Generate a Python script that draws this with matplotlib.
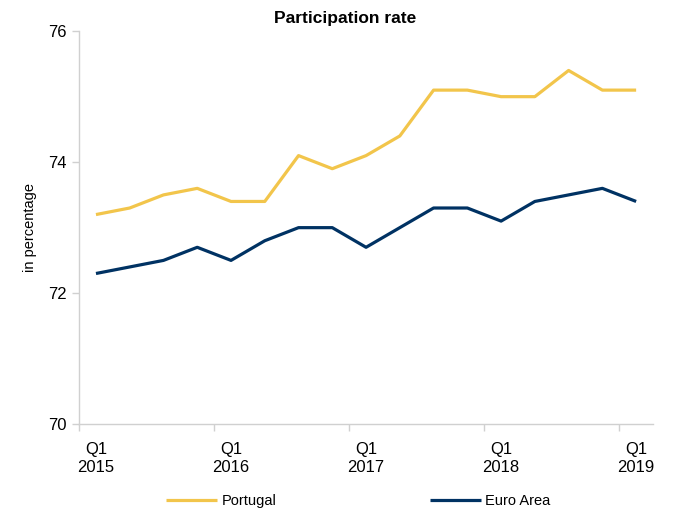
import matplotlib
matplotlib.use("Agg")
import matplotlib.pyplot as plt
from matplotlib import font_manager

# quarterly participation rate, Q1 2015 .. Q1 2019
quarters = ["Q1\n2015", "Q2", "Q3", "Q4", "Q1\n2016", "Q2", "Q3", "Q4",
            "Q1\n2017", "Q2", "Q3", "Q4", "Q1\n2018", "Q2", "Q3", "Q4", "Q1\n2019"]
portugal = [73.2, 73.3, 73.5, 73.6, 73.4, 73.4, 74.1, 73.9,
            74.1, 74.4, 75.1, 75.1, 75.0, 75.0, 75.4, 75.1, 75.1]
euro_area = [72.3, 72.4, 72.5, 72.7, 72.5, 72.8, 73.0, 73.0,
             72.7, 73.0, 73.3, 73.3, 73.1, 73.4, 73.5, 73.6, 73.4]
yticks = [70, 72, 74, 76]

names = set(f.name for f in font_manager.fontManager.ttflist)
narrow = "Liberation Sans Narrow" if "Liberation Sans Narrow" in names else "Liberation Sans"
plt.rcParams['font.family'] = ['Liberation Sans', 'DejaVu Sans']

yellow = "#F2C54B"
navy = "#003263"
grey = "#D0D0D0"

fig = plt.figure(figsize=(6.76, 5.11), dpi=100)
ax = fig.add_axes([0.117, 0.170, 0.849, 0.769])

x = list(range(len(quarters)))
ax.plot(x, portugal, color=yellow, lw=2.3, label="Portugal", solid_capstyle="butt")
ax.plot(x, euro_area, color=navy, lw=2.3, label="Euro Area", solid_capstyle="butt")

ax.set_xlim(-0.5, len(quarters) - 0.5)
ax.set_ylim(70, 76)
ax.set_yticks(yticks)
ax.set_yticklabels([str(v) for v in yticks], fontsize=12)

# labels on every 4th quarter, tick marks between categories
lab_idx = [i for i in x if i % 4 == 0]
ax.set_xticks(lab_idx)
ax.set_xticklabels([quarters[i] for i in lab_idx], fontsize=12, linespacing=1.2)
ax.tick_params(axis="x", length=0, pad=13)
ax.set_xticks([i + 3.5 for i in lab_idx[:-1]] + [-0.5], minor=True)
ax.tick_params(axis="x", which="minor", length=5, color=grey, width=1)
ax.tick_params(axis="y", length=5, color=grey, width=1, pad=4)

for s in ["top", "right"]:
    ax.spines[s].set_visible(False)
for s in ["left", "bottom"]:
    ax.spines[s].set_color(grey)
    ax.spines[s].set_linewidth(1)

ax.set_ylabel("in percentage", fontsize=10.5, labelpad=8)
fig.text(0.51, 0.964, "Participation rate", ha="center", va="center",
         fontsize=12.5, fontweight="bold", family=[narrow, 'DejaVu Sans'])

fig.legend(loc="center", bbox_to_anchor=(0.53, 0.019), ncol=2, frameon=False,
           fontsize=10.5, handlelength=3.5, handletextpad=0.3, columnspacing=10.5)

fig.savefig("out.png", dpi=100)
